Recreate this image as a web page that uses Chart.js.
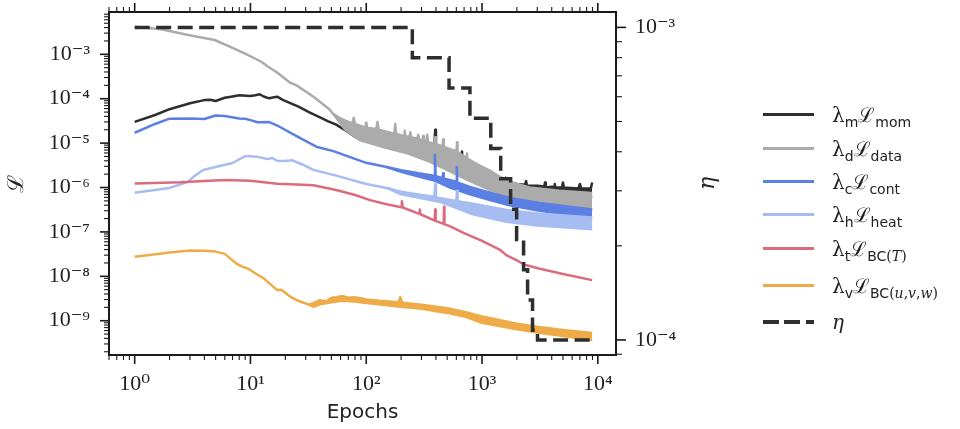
<!DOCTYPE html>
<html lang="en">
<head>
<meta charset="UTF-8">
<title>Loss terms and learning rate</title>
<script src="https://cdn.jsdelivr.net/npm/chart.js"></script>
<style>
  body { margin: 0; background: #fff; }
  .wrap { position: relative; width: 960px; height: 429px; }
  .row { position: absolute; left: 763px; height: 30px; display: flex; align-items: center; white-space: nowrap; }
  .swatch { width: 51px; height: 3px; margin-right: 18px; }
  .lbl { font-family: 'DejaVu Serif', serif; font-size: 20px; color: #222; }
  .lbl sub { font-family: 'DejaVu Sans', sans-serif; font-size: 14px; vertical-align: -5px; line-height: 0; }
  .lbl .mi { font-family: 'DejaVu Serif', serif; }
</style>
</head>
<body>
<div class="wrap">
  <canvas id="lossChart" width="960" height="429"></canvas>
</div>
<script>
// axis decades (minor ticks 2..9 are added between them)
const epochDecades = [0.1, 1, 10, 100, 1000, 10000];
const lossDecades = [1e-10, 1e-9, 1e-8, 1e-7, 1e-6, 1e-5, 1e-4, 1e-3];
const lrDecades = [1e-5, 1e-4, 1e-3];

const seriesLabels = [
  'λ<sub>m</sub>ℒ<sub>mom</sub>',
  'λ<sub>d</sub>ℒ<sub>data</sub>',
  'λ<sub>c</sub>ℒ<sub>cont</sub>',
  'λ<sub>h</sub>ℒ<sub>heat</sub>',
  'λ<sub>t</sub>ℒ<sub>BC<span class="mi">(<i>T</i>)</span></sub>',
  'λ<sub>v</sub>ℒ<sub>BC<span class="mi">(<i>u</i>,<i>v</i>,<i>w</i>)</span></sub>',
  '<i>η</i>'
];
const seriesColors = ['#2e2e2e', '#ababab', '#5b7fe3', '#a7bdf2', '#dc6b7d', '#eeab47', '#2e2e2e'];

// [epoch, loss]; the *Low arrays are the lower edge of the noisy band
const lossMom = [[1, 3.0e-5], [1.5, 4.3e-5], [2, 5.8e-5], [3, 7.9e-5], [4, 9.3e-5], [4.5, 9.5e-5], [5, 8.9e-5], [6, 1.05e-4], [7, 1.12e-4], [8, 1.19e-4], [10, 1.15e-4], [11, 1.2e-4], [12, 1.26e-4], [13, 1.12e-4], [14.5, 1.02e-4], [16, 1.08e-4], [17, 1.11e-4], [19, 9.4e-5], [26, 6.6e-5], [32, 5.0e-5], [39, 3.9e-5], [47, 3.1e-5], [55, 2.6e-5], [69, 1.8e-5], [81, 1.35e-5], [100, 1.3e-5], [150, 1.15e-5], [200, 9.5e-6], [300, 7.5e-6], [385, 6.5e-6], [394, 2.0e-5], [400, 6.3e-6], [500, 5.0e-6], [665, 3.8e-6], [671, 6.5e-6], [680, 3.7e-6], [1000, 2.2e-6], [1400, 1.5e-6], [1580, 1.4e-6], [1600, 1.65e-6], [1620, 1.35e-6], [2000, 1.2e-6], [2350, 1.15e-6], [2400, 1.4e-6], [2450, 1.1e-6], [3000, 1.1e-6], [3450, 1.05e-6], [3500, 1.3e-6], [3550, 1.0e-6], [4200, 1.05e-6], [4250, 1.2e-6], [4300, 1.0e-6], [4900, 1.0e-6], [5000, 1.3e-6], [5100, 1.0e-6], [6800, 9.5e-7], [7000, 1.2e-6], [7200, 9.5e-7], [8700, 9.5e-7], [8940, 1.3e-6]];
const lossMomLow = [[1000, 1.3e-6], [1500, 9.0e-7], [2000, 7.5e-7], [3000, 7.0e-7], [5000, 6.6e-7], [8940, 6.2e-7]];

const lossData = [[1, 4.2e-3], [1.7, 3.66e-3], [2.9, 2.72e-3], [4.9, 2.1e-3], [6.4, 1.54e-3], [8.9, 1.05e-3], [12.4, 6.8e-4], [14.1, 5.3e-4], [17, 3.9e-4], [22, 2.3e-4], [25, 2.0e-4], [30, 1.45e-4], [36, 1.05e-4], [40, 8.4e-5], [48, 5.8e-5], [52, 4.5e-5], [60, 3.6e-5], [66, 3.2e-5], [73, 2.9e-5], [76, 2.8e-5], [78, 3.7e-5], [80, 2.7e-5], [95, 2.3e-5], [98, 2.25e-5], [100, 2.9e-5], [102, 2.2e-5], [110, 2.15e-5], [122, 2.05e-5], [125, 3.0e-5], [128, 2.0e-5], [150, 1.8e-5], [165, 1.7e-5], [175, 1.65e-5], [178, 2.7e-5], [181, 1.6e-5], [200, 1.5e-5], [212, 1.45e-5], [215, 1.9e-5], [218, 1.42e-5], [236, 1.38e-5], [240, 1.75e-5], [244, 1.35e-5], [275, 1.25e-5], [281, 1.55e-5], [287, 1.2e-5], [306, 1.15e-5], [310, 1.45e-5], [314, 1.12e-5], [330, 1.1e-5], [336, 1.55e-5], [342, 1.05e-5], [388, 9.8e-6], [394, 1.35e-5], [400, 9.5e-6], [455, 8.5e-6], [461, 1.2e-5], [468, 8.2e-6], [540, 7.2e-6], [603, 6.6e-6], [608, 1.05e-5], [614, 6.3e-6], [700, 5.0e-6], [735, 4.7e-6], [741, 5.8e-6], [748, 4.5e-6], [834, 3.8e-6], [958, 3.1e-6], [1170, 2.4e-6], [1420, 1.75e-6], [1730, 1.35e-6], [2570, 1.0e-6], [4660, 8.5e-7], [8940, 7.5e-7]];
const lossDataLow = [[52, 4.5e-5], [66, 2.0e-5], [89, 1.15e-5], [133, 8.5e-6], [197, 6.5e-6], [240, 5.6e-6], [357, 3.8e-6], [530, 2.3e-6], [787, 1.4e-6], [1167, 8.8e-7], [1838, 5.5e-7], [3134, 4.5e-7], [5680, 3.6e-7], [8940, 3.1e-7]];

const lossCont = [[1, 1.71e-5], [1.5, 2.7e-5], [2, 3.55e-5], [3, 3.6e-5], [4, 3.5e-5], [5, 4.2e-5], [6, 4.1e-5], [8, 3.6e-5], [9, 3.55e-5], [10, 3.3e-5], [11.5, 2.95e-5], [14.5, 2.98e-5], [17.5, 2.4e-5], [25, 1.44e-5], [37, 8.3e-6], [52, 6.6e-6], [100, 3.6e-6], [150, 2.9e-6], [200, 2.45e-6], [300, 2.05e-6], [385, 1.85e-6], [392, 5.4e-6], [398, 1.8e-6], [455, 1.65e-6], [461, 2.1e-6], [467, 1.6e-6], [600, 1.35e-6], [606, 2.9e-6], [612, 1.3e-6], [787, 1.03e-6], [1170, 7.6e-7], [1730, 5.8e-7], [3130, 4.5e-7], [5680, 3.7e-7], [8940, 3.2e-7]];
const lossContLow = [[150, 2.9e-6], [200, 2.25e-6], [300, 1.7e-6], [400, 1.4e-6], [530, 1.0e-6], [787, 7.0e-7], [1170, 5.2e-7], [1730, 4.0e-7], [3130, 3.0e-7], [5680, 2.4e-7], [8940, 2.0e-7]];

const lossHeat = [[1, 7.6e-7], [2, 9.8e-7], [2.9, 1.35e-6], [3.2, 1.72e-6], [3.9, 2.48e-6], [5.1, 2.94e-6], [7, 3.56e-6], [9, 5.1e-6], [11.5, 4.9e-6], [14, 4.4e-6], [15.5, 4.6e-6], [17, 4.0e-6], [20, 3.95e-6], [23, 4.1e-6], [28, 3.3e-6], [35, 2.5e-6], [55, 1.85e-6], [100, 1.2e-6], [150, 9.8e-7], [200, 8.0e-7], [300, 6.8e-7], [388, 6.2e-7], [394, 1.2e-6], [400, 6.0e-7], [600, 5.0e-7], [608, 8.5e-7], [616, 4.9e-7], [834, 4.3e-7], [1630, 3.1e-7], [3000, 2.6e-7], [8940, 2.1e-7]];
const lossHeatLow = [[150, 9.8e-7], [200, 7.0e-7], [430, 4.8e-7], [834, 2.5e-7], [1630, 1.7e-7], [3000, 1.4e-7], [8940, 1.15e-7]];

const lossBcT = [[1, 1.23e-6], [2.5, 1.31e-6], [4, 1.4e-6], [6, 1.48e-6], [10, 1.42e-6], [17, 1.22e-6], [25, 1.17e-6], [35, 1.12e-6], [55, 8.8e-7], [80, 6.8e-7], [108, 5.2e-7], [150, 4.2e-7], [200, 3.6e-7], [203, 4.9e-7], [207, 3.55e-7], [287, 2.55e-7], [290, 3.2e-7], [294, 2.5e-7], [390, 1.8e-7], [394, 3.2e-7], [398, 1.78e-7], [466, 1.52e-7], [470, 3.7e-7], [474, 1.5e-7], [520, 1.37e-7], [700, 9.4e-8], [1000, 6.3e-8], [1420, 4.0e-8], [1620, 3.0e-8], [2000, 2.3e-8], [2300, 1.85e-8], [3100, 1.5e-8], [5000, 1.13e-8], [8940, 8.2e-9]];

const lossBcUvw = [[1, 2.76e-8], [2, 3.43e-8], [3, 3.8e-8], [4, 3.78e-8], [5, 3.6e-8], [6, 3.2e-8], [7.5, 1.96e-8], [8.5, 1.65e-8], [9.5, 1.5e-8], [11, 1.17e-8], [13, 9.0e-9], [15, 6.5e-9], [17, 4.9e-9], [18.5, 5.0e-9], [22, 3.5e-9], [25, 2.9e-9], [28, 2.6e-9], [32, 2.3e-9], [35, 2.5e-9], [40, 2.9e-9], [45, 2.7e-9], [50, 3.3e-9], [55, 3.4e-9], [62, 3.6e-9], [70, 3.3e-9], [78, 3.4e-9], [90, 3.2e-9], [100, 3.0e-9], [130, 2.8e-9], [190, 2.6e-9], [197, 3.4e-9], [204, 2.55e-9], [300, 2.3e-9], [500, 1.9e-9], [700, 1.6e-9], [1000, 1.25e-9], [2000, 8.6e-10], [3000, 7.3e-10], [5000, 6.2e-10], [8940, 5.3e-10]];
const lossBcUvwLow = [[32, 2.3e-9], [35, 2.05e-9], [40, 2.35e-9], [50, 2.6e-9], [62, 2.8e-9], [80, 2.7e-9], [100, 2.5e-9], [200, 2.05e-9], [300, 1.85e-9], [500, 1.5e-9], [700, 1.25e-9], [1000, 9.0e-10], [2000, 6.4e-10], [3000, 5.4e-10], [5000, 4.5e-10], [8940, 3.7e-10]];

// learning rate, value holds until the next epoch listed
const lrSteps = [[1, 1e-3], [250, 8e-4], [519, 6.4e-4], [786, 5.12e-4], [1190, 4.096e-4], [1450, 3.277e-4], [1765, 2.621e-4], [1990, 2.097e-4], [2285, 1.678e-4], [2475, 1.342e-4], [2730, 1.074e-4], [3015, 1e-4], [8940, 1e-4]];

const SUP = { '-': '⁻', '0': '⁰', '1': '¹', '2': '²', '3': '³', '4': '⁴', '5': '⁵', '6': '⁶', '7': '⁷', '8': '⁸', '9': '⁹' };
function powLabel(v) {
  const e = String(Math.round(Math.log10(v)));
  return '10' + e.split('').map(c => SUP[c]).join('');
}
function logTicks(decades, min, max) {
  const out = [];
  decades.forEach(d => {
    for (let k = 1; k <= 9; k++) {
      const v = d * k;
      if (v >= min && v <= max) out.push({ value: v, major: k === 1 });
    }
  });
  return out;
}

const tickFont = { family: "'Liberation Serif', 'DejaVu Serif', serif", size: 22 };
const tickLabel = (value, i, ticks) => ticks[i].major ? powLabel(value) : '';

function line(data, color, order, extra) {
  return Object.assign({ data, borderColor: color, backgroundColor: color, fill: false, order, yAxisID: 'y' }, extra || {});
}

const datasets = [
  line(lossMom, seriesColors[0], 10),
  line(lossMomLow, seriesColors[0], 10, { fill: '-1' }),
  line(lossData, seriesColors[1], 9),
  line(lossDataLow, seriesColors[1], 9, { fill: '-1' }),
  line(lossCont, seriesColors[2], 8),
  line(lossContLow, seriesColors[2], 8, { fill: '-1' }),
  line(lossHeat, seriesColors[3], 7),
  line(lossHeatLow, seriesColors[3], 7, { fill: '-1' }),
  line(lossBcT, seriesColors[4], 6),
  line(lossBcUvw, seriesColors[5], 5),
  line(lossBcUvwLow, seriesColors[5], 5, { fill: '-1' }),
  line(lrSteps, seriesColors[6], 0, { yAxisID: 'y2', stepped: true, borderWidth: 3.5, borderDash: [15, 6.5], borderJoinStyle: 'miter' })
];

// spines and tick marks, ticks pointing outwards
const axesFrame = {
  id: 'axesFrame',
  afterDraw(chart) {
    const { ctx, chartArea: a } = chart;
    const { x, y, y2 } = chart.scales;
    const seg = (x1, y1, x2, y2_, w) => {
      ctx.lineWidth = w;
      ctx.beginPath(); ctx.moveTo(x1, y1); ctx.lineTo(x2, y2_); ctx.stroke();
    };
    ctx.save();
    ctx.strokeStyle = '#1a1a1a';
    x.ticks.forEach(t => {
      const p = x.getPixelForValue(t.value), len = t.major ? 9 : 5, w = t.major ? 1.6 : 1.1;
      seg(p, a.bottom, p, a.bottom + len, w);
      seg(p, a.top, p, a.top - len, w);
    });
    y.ticks.forEach(t => {
      const p = y.getPixelForValue(t.value), len = t.major ? 9 : 5, w = t.major ? 1.6 : 1.1;
      seg(a.left, p, a.left - len, p, w);
    });
    y2.ticks.forEach(t => {
      const p = y2.getPixelForValue(t.value), len = t.major ? 10 : 6, w = t.major ? 1.6 : 1.1;
      seg(a.right, p, a.right + len, p, w);
    });
    ctx.lineWidth = 2;
    ctx.strokeRect(a.left, a.top, a.right - a.left, a.bottom - a.top);

    // right axis title, rotated like the left one
    ctx.fillStyle = '#222';
    ctx.font = "italic 22px 'DejaVu Serif', serif";
    ctx.textAlign = 'center';
    ctx.textBaseline = 'middle';
    ctx.translate(a.right + 92, (a.top + a.bottom) / 2);
    ctx.rotate(-Math.PI / 2);
    ctx.fillText('η', 0, 0);
    ctx.restore();
  }
};

const noGrid = { display: false, drawTicks: false };

new Chart(document.getElementById('lossChart'), {
  type: 'line',
  data: { datasets },
  options: {
    responsive: false,
    animation: false,
    layout: { padding: { left: 0, right: 234, top: 12, bottom: 0 } },
    elements: {
      point: { radius: 0 },
      line: { borderWidth: 2.5, borderJoinStyle: 'round', tension: 0 }
    },
    plugins: { legend: { display: false }, tooltip: { enabled: false } },
    scales: {
      x: {
        type: 'logarithmic', position: 'bottom', min: 0.626, max: 14360,
        afterBuildTicks: s => { s.ticks = logTicks(epochDecades, s.min, s.max); },
        afterFit: s => { s.height = 74; s.paddingLeft = 0; s.paddingRight = 0; },
        grid: noGrid, border: { display: false },
        ticks: { autoSkip: false, maxRotation: 0, padding: 16, font: tickFont, color: '#222', callback: tickLabel },
        title: { display: true, text: 'Epochs', color: '#222', font: { family: "'DejaVu Sans', sans-serif", size: 20 }, padding: { top: 0, bottom: 4 } }
      },
      y: {
        type: 'logarithmic', position: 'left', min: 1.69e-10, max: 8.97e-3,
        afterBuildTicks: s => { s.ticks = logTicks(lossDecades, s.min, s.max); },
        afterFit: s => { s.width = 109; s.paddingTop = 0; s.paddingBottom = 0; },
        grid: noGrid, border: { display: false },
        ticks: { autoSkip: false, padding: 19, font: tickFont, color: '#222', callback: tickLabel },
        title: { display: true, text: 'ℒ', color: '#222', font: { family: "'DejaVu Serif', serif", size: 22 }, padding: { top: 4, bottom: 4 } }
      },
      y2: {
        type: 'logarithmic', position: 'right', min: 8.95e-5, max: 1.12e-3,
        afterBuildTicks: s => { s.ticks = logTicks(lrDecades, s.min, s.max); },
        afterFit: s => { s.width = 110; s.paddingTop = 0; s.paddingBottom = 0; },
        grid: noGrid, border: { display: false },
        ticks: { autoSkip: false, padding: 19, font: tickFont, color: '#222', callback: tickLabel }
      }
    }
  },
  plugins: [axesFrame]
});

// legend with sub-scripted labels
const legendRowsY = [114, 148, 181, 214, 248, 285, 322];
const wrap = document.querySelector('.wrap');
seriesLabels.forEach((label, i) => {
  const row = document.createElement('div');
  row.className = 'row';
  row.style.top = (legendRowsY[i] - 15) + 'px';
  const sw = document.createElement('span');
  sw.className = 'swatch';
  if (i === seriesLabels.length - 1) {
    sw.style.height = '4px';
    sw.style.background = 'repeating-linear-gradient(90deg, ' + seriesColors[i] + ' 0 16px, transparent 16px 21.5px)';
  } else {
    sw.style.background = seriesColors[i];
  }
  const txt = document.createElement('span');
  txt.className = 'lbl';
  txt.innerHTML = label;
  row.appendChild(sw);
  row.appendChild(txt);
  wrap.appendChild(row);
});
</script>
</body>
</html>
